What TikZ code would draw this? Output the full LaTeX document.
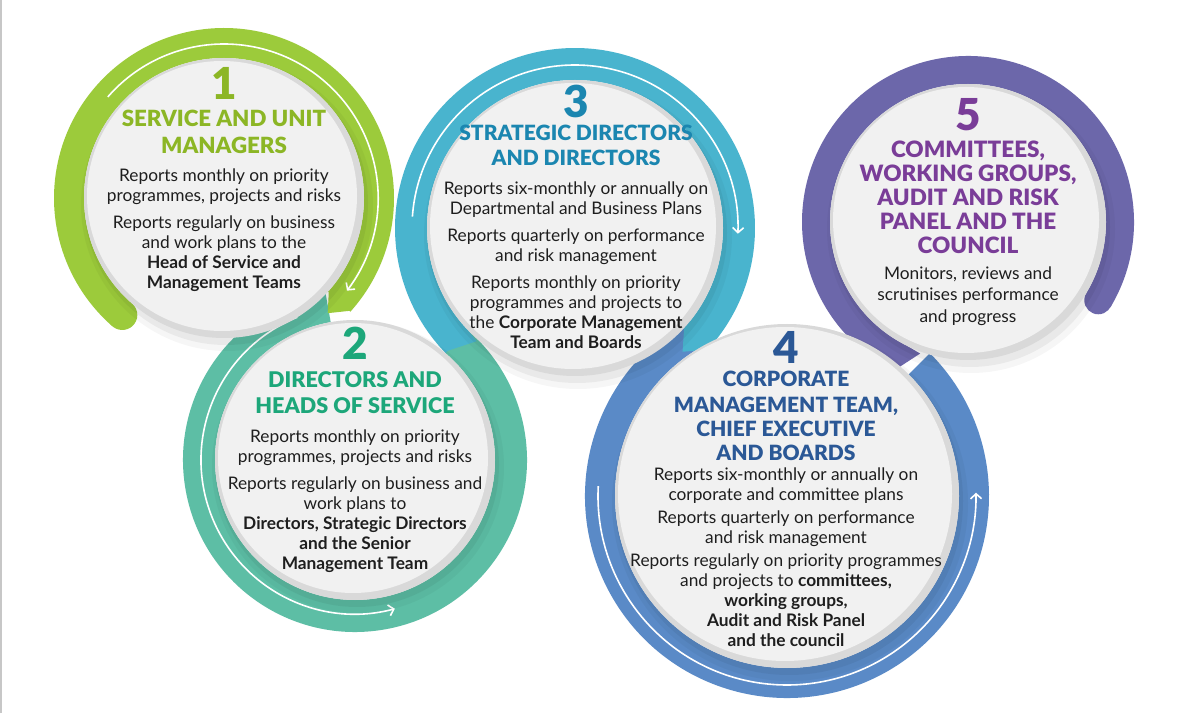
\documentclass[tikz,border=0pt]{standalone}
\usepackage{fontspec}
\setmainfont{Lato}
\newfontfamily\heavyfont{Lato Black}
\usetikzlibrary{arrows.meta,calc}
\definecolor{bandA}{HTML}{9CCB3B}
\definecolor{headA}{HTML}{8CB625}
\definecolor{bandB}{HTML}{5DBEA5}
\definecolor{headB}{HTML}{1DA77A}
\definecolor{bandC}{HTML}{49B4CE}
\definecolor{headC}{HTML}{1B86B0}
\definecolor{bandD}{HTML}{5A8AC7}
\definecolor{headD}{HTML}{2B5896}
\definecolor{bandE}{HTML}{6C67AA}
\definecolor{headE}{HTML}{7A3D98}
\definecolor{diskrim}{HTML}{D9D9D9}
\definecolor{diskface}{HTML}{F1F1F1}
\definecolor{bodytext}{HTML}{1E1E1E}
\newcommand{\ringband}[6]{%
  \fill[#6] ($(#1)+(#4:#3)$) arc[start angle=#4,end angle=#5,radius=#3]
    -- ($(#1)+(#5:#2)$) arc[start angle=#5,end angle=#4,radius=#2] -- cycle;}
\newcommand{\discat}[2]{%
  \fill[black,opacity=0.035] ($(#1)+(3,-7)$) circle[radius=#2+6];
  \fill[black,opacity=0.05] ($(#1)+(2,-5)$) circle[radius=#2+2];
  \fill[diskrim] (#1) circle[radius=#2];
  \fill[diskface] ($(#1)+(-2,2)$) circle[radius=#2-5];}
\begin{document}
\begin{tikzpicture}[x=1pt,y=1pt,
  warrow/.style={draw=white,line width=1.6pt,-{Straight Barb[length=5pt,width=11pt]}},
  numtxt/.style={font=\fontsize{44}{44}\selectfont\heavyfont,inner sep=0},
  headtxt/.style={font=\fontsize{21}{25}\selectfont\heavyfont,align=center,inner sep=0},
  bodytxt/.style={font=\fontsize{17.3}{20}\selectfont,align=center,inner sep=0,text=bodytext}]
\fill[white] (0,0) rectangle (1192,713);
\useasboundingbox (0,0) rectangle (1192,713);
\draw[line width=1.5pt,black!22] (0.75,0) -- (0.75,713);
\coordinate (c1) at (224,515);
\coordinate (c2) at (355,253);
\coordinate (c3) at (575,485);
\coordinate (c4) at (787,217);
\coordinate (c5) at (968,491);
% bands
\ringband{c2}{140}{172}{100}{410}{bandB}
\ringband{c1}{140}{170}{-42}{229}{bandA}
\fill[bandA] ($(c1)+(229:155)$) circle[radius=15];
\fill[bandA] ($(c1)+(-41.5:140)$) -- ($(c1)+(-48:155)$) -- ($(c1)+(-41.5:170)$) -- cycle;
\ringband{c4}{172}{202}{119}{405}{bandD}
\ringband{c3}{148}{180}{-43}{224}{bandC}
\fill[bandC] ($(c3)+(-42.5:148)$) -- ($(c3)+(-49:164)$) -- ($(c3)+(-42.5:180)$) -- cycle;
\fill[bandC] ($(c3)+(223.5:148)$) -- ($(c3)+(229:150)$) -- ($(c3)+(223.5:180)$) -- cycle;
\ringband{c5}{138}{166}{-31}{244}{bandE}
\fill[bandE] ($(c5)+(-31:152)$) circle[radius=14];
\fill[bandE] ($(c5)+(243.5:138)$) -- ($(c5)+(250:140)$) -- ($(c5)+(243.5:166)$) -- cycle;
% white arrows
\draw[warrow] ($(c1)+(139:154)$) arc[start angle=139,end angle=-37,radius=154];
\draw[warrow] ($(c2)+(112:154)$) arc[start angle=112,end angle=285,radius=154];
\draw[warrow] ($(c3)+(176:163)$) arc[start angle=176,end angle=-2,radius=163];
\draw[warrow] ($(c4)+(177:189)$) arc[start angle=177,end angle=361,radius=189];
% discs
\discat{c2}{140}
\discat{c1}{140}
\discat{c4}{172}
\discat{c3}{148}
\discat{c5}{138}
% circle 1
\node[numtxt,text=headA] (n1) at (224,630) {1};
\node[headtxt,text=headA,font=\fontsize{22.3}{27}\selectfont\heavyfont] (h1) at (224,581) {SERVICE AND UNIT\\MANAGERS};
\node[bodytxt] (b1) at (224,483) {Reports monthly on priority\\programmes, projects and risks\\[7pt]Reports regularly on business\\and work plans to the\\\textbf{Head of Service and}\\\textbf{Management Teams}};
% circle 2
\node[numtxt,text=headB] (n2) at (355,370) {2};
\node[headtxt,text=headB,font=\fontsize{21.6}{26}\selectfont\heavyfont] (h2) at (355,320) {DIRECTORS AND\\HEADS OF SERVICE};
\node[bodytxt] (b2) at (355,212) {Reports monthly on priority\\programmes, projects and risks\\[7pt]Reports regularly on business and\\work plans to\\\textbf{Directors, Strategic Directors}\\\textbf{and the Senior}\\\textbf{Management Team}};
% circle 3
\node[numtxt,text=headC] (n3) at (576,612) {3};
\node[headtxt,text=headC] (h3) at (576,567.5) {STRATEGIC DIRECTORS\\AND DIRECTORS};
\node[bodytxt] (b3) at (576,448) {Reports six-monthly or annually on\\Departmental and Business Plans\\[7pt]Reports quarterly on performance\\and risk management\\[7pt]Reports monthly on priority\\programmes and projects to\\the \textbf{Corporate Management}\\\textbf{Team and Boards}};
% circle 4
\node[numtxt,text=headD] (n4) at (786,366) {4};
\node[headtxt,text=headD,font=\fontsize{21}{24}\selectfont\heavyfont] (h4) at (786,297) {CORPORATE\\[2pt]MANAGEMENT TEAM,\\CHIEF EXECUTIVE\\AND BOARDS};
\node[bodytxt] (b4) at (786,156) {Reports six-monthly or annually on\\corporate and committee plans\\[3pt]Reports quarterly on performance\\and risk management\\[3pt]Reports regularly on priority programmes\\and projects to \textbf{committees,}\\\textbf{working groups,}\\\textbf{Audit and Risk Panel}\\\textbf{and the council}};
% circle 5
\node[numtxt,text=headE] (n5) at (968,598) {5};
\node[headtxt,text=headE,font=\fontsize{22.5}{24}\selectfont\heavyfont] (h5) at (968,515.5) {COMMITTEES,\\WORKING GROUPS,\\AUDIT AND RISK\\PANEL AND THE\\COUNCIL};
\node[bodytxt,font=\fontsize{17.3}{21.5}\selectfont] (b5) at (968,417) {Monitors, reviews and\\scrutinises performance\\and progress};
\end{tikzpicture}
\end{document}
